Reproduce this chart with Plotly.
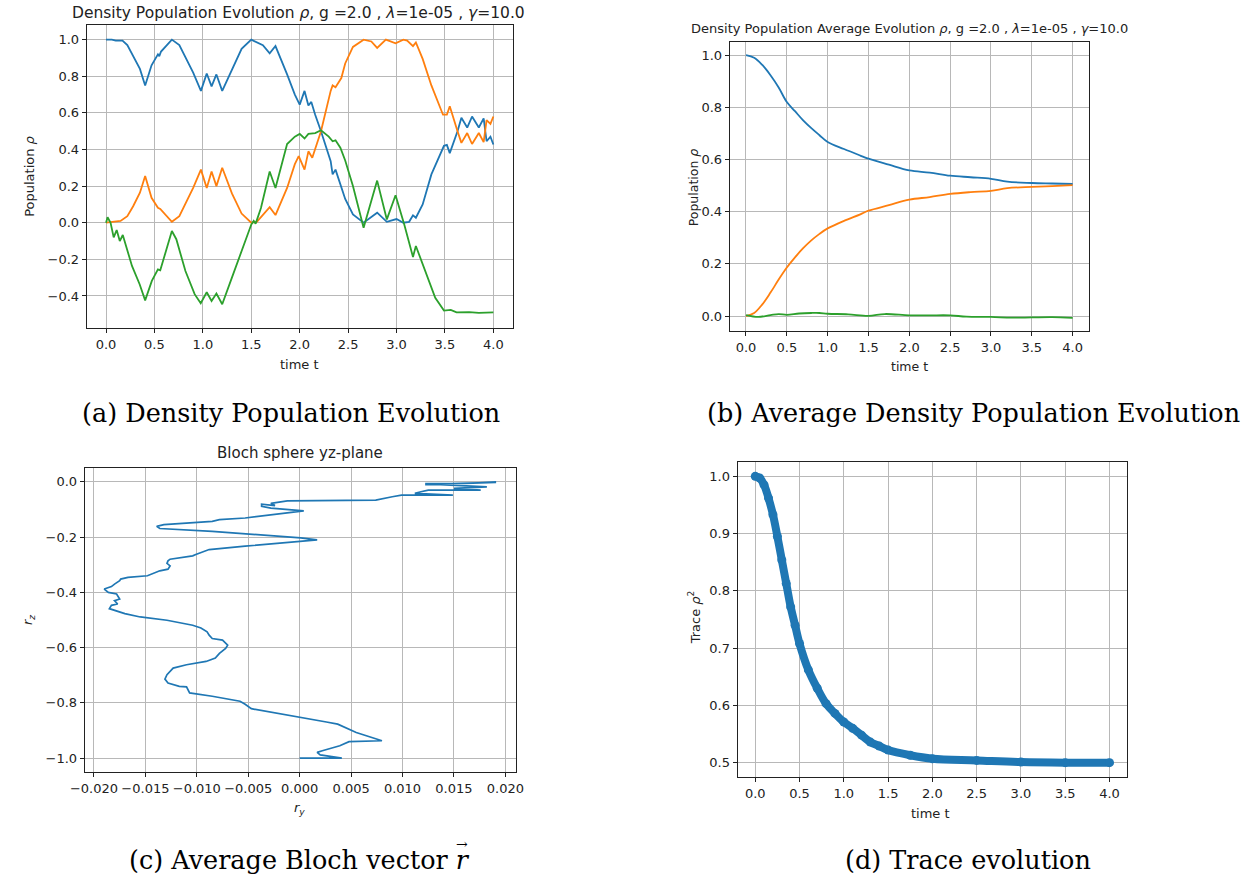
import plotly.graph_objects as go

W, H = 1256, 884
C0, C1, C2 = "#1f77b4", "#ff7f0e", "#2ca02c"

# ---------------- Panel (a): single trajectory ----------------
a_blue_t = [0, 0.06, 0.1, 0.14, 0.17, 0.22, 0.28, 0.35, 0.404, 0.47, 0.536, 0.55, 0.568, 0.68, 0.757,
            0.9, 0.98, 1.04, 1.09, 1.14, 1.2, 1.3, 1.4, 1.5, 1.62, 1.69, 1.75, 1.87, 1.95, 2.0,
            2.05, 2.09, 2.12, 2.16, 2.22, 2.32, 2.34, 2.37, 2.43, 2.47, 2.55, 2.66, 2.8, 2.9, 3.0,
            3.07, 3.13, 3.17, 3.2, 3.27, 3.36, 3.49, 3.52, 3.55, 3.63, 3.67, 3.73, 3.78, 3.85, 3.9,
            3.93, 3.97, 4.0]
a_blue_v = [1.0, 1.0, 0.995, 0.997, 0.995, 0.97, 0.91, 0.84, 0.75, 0.86, 0.92, 0.91, 0.935, 1.0, 0.97,
            0.82, 0.72, 0.815, 0.745, 0.81, 0.72, 0.84, 0.95, 1.0, 0.97, 0.925, 0.965, 0.81, 0.70, 0.645,
            0.72, 0.64, 0.66, 0.59, 0.50, 0.336, 0.264, 0.29, 0.20, 0.13, 0.045, 0.0, 0.055, 0.005, 0.02,
            0.0, 0.005, 0.04, 0.027, 0.1, 0.264, 0.42, 0.425, 0.38, 0.5, 0.573, 0.52, 0.58, 0.52, 0.57,
            0.445, 0.47, 0.427]

a_orange_t = [0, 0.1, 0.15, 0.22, 0.28, 0.35, 0.404, 0.47, 0.536, 0.56, 0.68, 0.757, 0.9, 0.98, 1.04,
              1.09, 1.14, 1.2, 1.3, 1.4, 1.5, 1.557, 1.69, 1.75, 1.87, 1.95, 1.99, 2.05, 2.09, 2.13,
              2.22, 2.32, 2.34, 2.37, 2.43, 2.47, 2.55, 2.66, 2.74, 2.8, 2.89, 2.99, 3.07, 3.11, 3.17,
              3.2, 3.27, 3.36, 3.48, 3.52, 3.55, 3.63, 3.67, 3.73, 3.78, 3.85, 3.9, 3.93, 3.97, 4.0]
a_orange_v = [0.0, 0.005, 0.01, 0.036, 0.09, 0.164, 0.255, 0.136, 0.082, 0.075, 0.005, 0.036, 0.19, 0.29, 0.19,
              0.28, 0.2, 0.3, 0.16, 0.05, 0.0, 0.005, 0.085, 0.042, 0.19, 0.32, 0.364, 0.29, 0.39, 0.355,
              0.5, 0.72, 0.75, 0.74, 0.79, 0.87, 0.96, 1.0, 0.99, 0.955, 1.0, 0.98, 1.0, 0.995, 0.965,
              0.985, 0.895, 0.75, 0.59, 0.59, 0.636, 0.5, 0.436, 0.49, 0.43, 0.49, 0.44, 0.56, 0.54, 0.58]

a_green_t = [0, 0.016, 0.047, 0.079, 0.11, 0.142, 0.173, 0.22, 0.268, 0.347, 0.404, 0.473, 0.536, 0.56,
             0.599, 0.68, 0.726, 0.82, 0.915, 0.978, 1.04, 1.09, 1.14, 1.2, 1.3, 1.4, 1.5, 1.525,
             1.545, 1.6, 1.69, 1.75, 1.87, 1.95, 2.0, 2.05, 2.09, 2.16, 2.22, 2.3, 2.34, 2.37, 2.42,
             2.47, 2.55, 2.66, 2.8, 2.9, 2.99, 3.08, 3.17, 3.2, 3.3, 3.4, 3.49, 3.56, 3.62, 3.75,
             3.85, 4.0]
a_green_v = [0.0, 0.03, 0.0, -0.08, -0.04, -0.1, -0.067, -0.155, -0.236, -0.336, -0.424, -0.318, -0.255, -0.26,
             -0.19, -0.045, -0.09, -0.264, -0.39, -0.44, -0.38, -0.427, -0.387, -0.445, -0.3, -0.15, -0.01, 0.01,
             -0.005, 0.08, 0.28, 0.19, 0.43, 0.47, 0.485, 0.46, 0.485, 0.49, 0.505, 0.47, 0.445, 0.45, 0.41,
             0.34, 0.2, -0.027, 0.23, 0.018, 0.15, -0.01, -0.187, -0.127, -0.27, -0.41, -0.48, -0.476, -0.49, -0.488,
             -0.492, -0.49]

# ---------------- Panel (b): averaged populations ----------------
b_t = [0, 0.1, 0.2, 0.3, 0.4, 0.5, 0.6, 0.7, 0.8, 0.9, 1.0, 1.2, 1.4, 1.5, 1.75, 2.0, 2.25, 2.5,
       2.75, 3.0, 3.2, 3.5, 3.75, 4.0]
b_blue = [1.0, 0.99, 0.962, 0.923, 0.876, 0.82, 0.785, 0.75, 0.72, 0.693, 0.667, 0.64, 0.615, 0.603,
          0.58, 0.558, 0.55, 0.538, 0.532, 0.526, 0.515, 0.51, 0.508, 0.506]
b_orange = [0.0, 0.012, 0.045, 0.09, 0.14, 0.186, 0.225, 0.26, 0.29, 0.315, 0.336, 0.365, 0.39, 0.404,
            0.425, 0.446, 0.456, 0.468, 0.475, 0.48, 0.49, 0.495, 0.498, 0.502]
b_green_t = [0, 0.15, 0.3, 0.4, 0.5, 0.65, 0.8, 0.9, 1.0, 1.25, 1.5, 1.7, 2.0, 2.25, 2.5, 2.7, 3.0,
             3.25, 3.5, 3.75, 4.0]
b_green = [0.004, -0.003, 0.004, 0.008, 0.005, 0.01, 0.012, 0.012, 0.009, 0.007, 0.001, 0.008, 0.003,
           0.003, 0.003, -0.002, -0.003, -0.006, -0.005, -0.004, -0.007]

# ---------------- Panel (c): average Bloch vector (y,z) ----------------
c_ry = [0.0, 0.0041, 0.0020, 0.0017, 0.0022, 0.0039, 0.0048, 0.0080, 0.0055, 0.0041, 0.0037, 0.0026,
        0.0001, -0.0047, -0.0053, -0.0058, -0.0085, -0.0107, -0.0110, -0.0117, -0.0128, -0.0131,
        -0.0129, -0.0123, -0.0110, -0.0091, -0.0082, -0.0078, -0.0072, -0.0070, -0.0075, -0.0085,
        -0.0088, -0.0090, -0.0096, -0.0104, -0.0129, -0.0155, -0.0170, -0.0180, -0.0185, -0.0183,
        -0.0177, -0.0180, -0.0175, -0.0178, -0.0186, -0.0190, -0.0183, -0.0180, -0.0175, -0.0174,
        -0.0167, -0.0148, -0.0139, -0.0136, -0.0128, -0.0126, -0.0129, -0.0128, -0.0126, -0.0120,
        -0.0104, -0.0101, -0.0097, -0.0088, -0.0053, 0.0017, 0.0001, -0.0047, -0.0085, -0.0136,
        -0.0139, -0.0132, -0.0085, -0.0078, -0.0053, 0.0004, -0.0028, -0.0037, -0.0037, -0.0024,
        -0.0028, -0.0012, 0.0074, 0.0090, 0.0099, 0.0149, 0.0112, 0.0118, 0.0125, 0.0176, 0.0150,
        0.0182, 0.0153, 0.0137, 0.0122, 0.0191, 0.0147, 0.0122]
c_rz = [-1.0, -1.0, -0.988, -0.979, -0.973, -0.955, -0.940, -0.937, -0.907, -0.885, -0.877, -0.869,
        -0.853, -0.821, -0.805, -0.794, -0.776, -0.764, -0.742, -0.740, -0.728, -0.714,
        -0.698, -0.674, -0.662, -0.650, -0.638, -0.621, -0.603, -0.591, -0.573, -0.567,
        -0.555, -0.543, -0.529, -0.519, -0.501, -0.489, -0.477, -0.465, -0.459, -0.447,
        -0.442, -0.430, -0.424, -0.406, -0.400, -0.388, -0.379, -0.370, -0.358, -0.352,
        -0.346, -0.340, -0.328, -0.322, -0.316, -0.304, -0.295, -0.286, -0.280, -0.277,
        -0.268, -0.263, -0.257, -0.245, -0.233, -0.210, -0.203, -0.191, -0.179, -0.169,
        -0.161, -0.155, -0.143, -0.137, -0.131, -0.105, -0.095, -0.089, -0.081, -0.086,
        -0.078, -0.069, -0.066, -0.054, -0.048, -0.048, -0.042, -0.036, -0.030, -0.030, -0.024,
        -0.018, -0.012, -0.010, -0.010, -0.002, -0.006, -0.006]

# ---------------- Panel (d): purity ----------------
d_t = [0, 0.05, 0.1, 0.15, 0.2, 0.25, 0.3, 0.35, 0.4, 0.45, 0.5, 0.6, 0.7, 0.8, 0.9, 1.0, 1.1, 1.2,
       1.3, 1.4, 1.5, 1.75, 2.0, 2.5, 3.0, 3.5, 4.0]
d_trace = [1.0, 0.997, 0.985, 0.962, 0.933, 0.895, 0.854, 0.813, 0.772, 0.74, 0.708, 0.662, 0.63, 0.603,
           0.586, 0.571, 0.56, 0.548, 0.536, 0.529, 0.522, 0.513, 0.507, 0.504, 0.501, 0.5, 0.5]

t_ticks = [0, 0.5, 1.0, 1.5, 2.0, 2.5, 3.0, 3.5, 4.0]
a_yticks = [-0.4, -0.2, 0.0, 0.2, 0.4, 0.6, 0.8, 1.0]
b_yticks = [0.0, 0.2, 0.4, 0.6, 0.8, 1.0]
c_xticks = [-0.02, -0.015, -0.01, -0.005, 0.0, 0.005, 0.01, 0.015, 0.02]
c_yticks = [0.0, -0.2, -0.4, -0.6, -0.8, -1.0]
d_yticks = [0.5, 0.6, 0.7, 0.8, 0.9, 1.0]

for a, b in [(a_blue_t, a_blue_v), (a_orange_t, a_orange_v), (a_green_t, a_green_v),
             (b_green_t, b_green), (c_ry, c_rz), (d_t, d_trace)]:
    assert len(a) == len(b), (len(a), len(b))
assert len(b_t) == len(b_blue) == len(b_orange)

fig = go.Figure()
lw = 1.8
fig.add_trace(go.Scatter(x=a_blue_t, y=a_blue_v, mode="lines", line=dict(color=C0, width=lw), xaxis="x", yaxis="y"))
fig.add_trace(go.Scatter(x=a_orange_t, y=a_orange_v, mode="lines", line=dict(color=C1, width=lw), xaxis="x", yaxis="y"))
fig.add_trace(go.Scatter(x=a_green_t, y=a_green_v, mode="lines", line=dict(color=C2, width=lw), xaxis="x", yaxis="y"))

fig.add_trace(go.Scatter(x=b_t, y=b_blue, mode="lines", line=dict(color=C0, width=lw, shape="spline"), xaxis="x2", yaxis="y2"))
fig.add_trace(go.Scatter(x=b_t, y=b_orange, mode="lines", line=dict(color=C1, width=lw, shape="spline"), xaxis="x2", yaxis="y2"))
fig.add_trace(go.Scatter(x=b_green_t, y=b_green, mode="lines", line=dict(color=C2, width=lw, shape="spline"), xaxis="x2", yaxis="y2"))

fig.add_trace(go.Scatter(x=c_ry, y=c_rz, mode="lines", line=dict(color=C0, width=1.7), xaxis="x3", yaxis="y3"))

fig.add_trace(go.Scatter(x=d_t, y=d_trace, mode="lines+markers", line=dict(color=C0, width=8, shape="spline"),
                         marker=dict(color=C0, size=9), xaxis="x4", yaxis="y4"))


def xd(x0, x1):
    return [x0 / W, x1 / W]


def yd(y0, y1):
    return [1 - y1 / H, 1 - y0 / H]


sans = "DejaVu Sans"
tickfont = dict(family=sans, size=13, color="#222")
common = dict(showline=True, linecolor="#222", linewidth=1, mirror=True, showgrid=True,
              gridcolor="#b8b8b8", gridwidth=1, ticks="outside", ticklen=4, tickcolor="#222",
              zeroline=False, tickfont=tickfont, tickmode="array")

fig.update_layout(
    width=W, height=H, margin=dict(l=0, r=0, t=0, b=0),
    paper_bgcolor="white", plot_bgcolor="white", showlegend=False,
    xaxis=dict(common, domain=xd(73, 507), range=[-0.2, 4.2], tickvals=t_ticks, tickformat=".1f", anchor="y"),
    yaxis=dict(common, domain=yd(25, 328), range=[-0.575, 1.08], tickvals=a_yticks, tickformat=".1f", anchor="x",
               title=dict(text="Population <i>ρ</i>", font=dict(family=sans, size=13, color="#222"), standoff=9)),
    xaxis2=dict(common, domain=xd(728, 1094), range=[-0.2, 4.2], tickvals=t_ticks, tickformat=".1f", anchor="y2"),
    yaxis2=dict(common, domain=yd(42, 331), range=[-0.057, 1.05], tickvals=b_yticks, tickformat=".1f", anchor="x2"),
    xaxis3=dict(common, domain=xd(71, 510), range=[-0.0209, 0.0210], tickvals=c_xticks, tickformat=".3f", anchor="y3"),
    yaxis3=dict(common, domain=yd(468, 772), range=[-1.05, 0.05], tickvals=c_yticks, tickformat=".1f", anchor="x3",
                title=dict(text="<i>r<sub>z</sub></i>", font=dict(family=sans, size=13, color="#222"), standoff=9)),
    xaxis4=dict(common, domain=xd(736, 1133), range=[-0.2, 4.2], tickvals=t_ticks, tickformat=".1f", anchor="y4"),
    yaxis4=dict(common, domain=yd(462, 777), range=[0.475, 1.025], tickvals=d_yticks, tickformat=".1f", anchor="x4"),
)

ann = []


def label(text, x, y, size=13, angle=0, family=sans, color="#222"):
    ann.append(dict(text=text, x=x / W, y=1 - y / H, xref="paper", yref="paper", showarrow=False,
                    xanchor="center", yanchor="middle", textangle=angle,
                    font=dict(family=family, size=size, color=color)))


label("Density Population Evolution <i>ρ</i>, g =2.0 , <i>λ</i>=1e-05 , <i>γ</i>=10.0", 289, 13, 15.5)
label("Density Population Average Evolution <i>ρ</i>, g =2.0 , <i>λ</i>=1e-05 , <i>γ</i>=10.0", 911, 28, 13)
label("Bloch sphere yz-plane", 290, 453, 15)

label("time t", 290, 364, 13)
label("Population <i>ρ</i>", 691, 187, 12.5, -90)
label("time t", 911, 366, 12.5)
label("<i>r<sub>y</sub></i>", 290, 808, 13)
label("Trace <i>ρ</i><sup>2</sup>", 692, 617, 13, -90)
label("time t", 933, 813, 13)

serif = "DejaVu Serif"
label("(a) Density Population Evolution", 281, 413, 25.5, family=serif, color="black")
label("(b) Average Density Population Evolution", 976, 413, 25.5, family=serif, color="black")
label("(c) Average Bloch vector <i>r</i>", 290, 860, 25.5, family=serif, color="black")
label("→", 455, 844, 14, family=serif, color="black")
label("(d) Trace evolution", 971, 860, 25.5, family=serif, color="black")

fig.update_layout(annotations=ann)
fig.write_html("out.html")
